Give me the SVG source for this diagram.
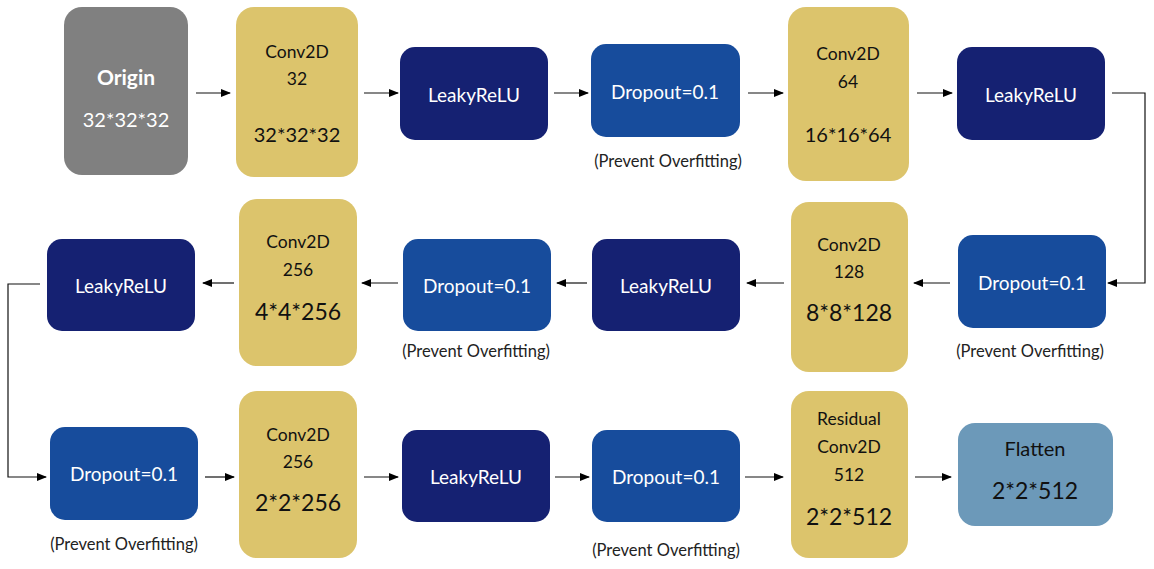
<svg xmlns="http://www.w3.org/2000/svg" width="1154" height="569" viewBox="0 0 1154 569">
<defs>
<marker id="ah" markerWidth="10" markerHeight="8" refX="9" refY="4" orient="auto" markerUnits="userSpaceOnUse">
<path d="M0,0 L10,4 L0,8 Z" fill="#000"/>
</marker>
<style>
text{font-family:Lato,"Open Sans","Liberation Sans",sans-serif;text-anchor:middle;}
.gray{fill:#808080;}
.gold{fill:#DCC46C;}
.navy{fill:#152172;}
.blue{fill:#174C9C;}
.flat{fill:#6C99B9;}
.w{fill:#ffffff;}
.k{fill:#111111;}
.lbl{font-size:19px;}
.sm{font-size:17.5px;}
.big{font-size:20px;}
.bg{font-size:23px;}
.note{font-size:16.5px;fill:#222;}
.c{fill:none;stroke:#111;stroke-width:1.2;}
</style>
</defs>
<rect width="1154" height="569" fill="#ffffff"/>

<g id="connectors">
<line class="c" x1="196" y1="93" x2="230" y2="93" marker-end="url(#ah)"/>
<line class="c" x1="364" y1="93" x2="398" y2="93" marker-end="url(#ah)"/>
<line class="c" x1="554" y1="93" x2="588" y2="93" marker-end="url(#ah)"/>
<line class="c" x1="748" y1="93" x2="783" y2="93" marker-end="url(#ah)"/>
<line class="c" x1="917" y1="93" x2="952" y2="93" marker-end="url(#ah)"/>
<polyline class="c" points="1112,93 1145,93 1145,283 1108,283" marker-end="url(#ah)"/>
<line class="c" x1="950" y1="283" x2="914" y2="283" marker-end="url(#ah)"/>
<line class="c" x1="784" y1="283" x2="747" y2="283" marker-end="url(#ah)"/>
<line class="c" x1="587" y1="283" x2="557" y2="283" marker-end="url(#ah)"/>
<line class="c" x1="398" y1="283" x2="362" y2="283" marker-end="url(#ah)"/>
<line class="c" x1="234" y1="283" x2="203" y2="283" marker-end="url(#ah)"/>
<polyline class="c" points="40,284 8,284 8,477 46,477" marker-end="url(#ah)"/>
<line class="c" x1="205" y1="477" x2="234" y2="477" marker-end="url(#ah)"/>
<line class="c" x1="364" y1="477" x2="398" y2="477" marker-end="url(#ah)"/>
<line class="c" x1="555" y1="477" x2="589" y2="477" marker-end="url(#ah)"/>
<line class="c" x1="745" y1="477" x2="783" y2="477" marker-end="url(#ah)"/>
<line class="c" x1="915" y1="477" x2="951" y2="477" marker-end="url(#ah)"/>
</g>

<g id="origin">
<rect class="gray" x="64" y="7" width="124" height="168" rx="18"/>
<text class="w" x="126" y="85" font-size="21" font-weight="bold">Origin</text>
<text class="w big" x="126" y="127">32*32*32</text>
</g>

<g id="conv32">
<rect class="gold" x="236" y="7" width="122" height="170" rx="18"/>
<text class="k sm" x="297" y="58">Conv2D</text>
<text class="k sm" x="297" y="85">32</text>
<text class="k big" x="297" y="142">32*32*32</text>
</g>

<g id="leaky1">
<rect class="navy" x="400" y="47" width="148" height="93" rx="15"/>
<text class="w lbl" x="474" y="102">LeakyReLU</text>
</g>

<g id="drop1">
<rect class="blue" x="591" y="44" width="149" height="93" rx="15"/>
<text class="w lbl" x="665" y="99">Dropout=0.1</text>
<text class="note" x="668" y="167">(Prevent Overfitting)</text>
</g>

<g id="conv64">
<rect class="gold" x="788" y="7" width="121" height="174" rx="18"/>
<text class="k sm" x="848" y="60">Conv2D</text>
<text class="k sm" x="848" y="88">64</text>
<text class="k big" x="848" y="142">16*16*64</text>
</g>

<g id="leaky2">
<rect class="navy" x="957" y="47" width="148" height="93" rx="15"/>
<text class="w lbl" x="1031" y="102">LeakyReLU</text>
</g>

<g id="drop2">
<rect class="blue" x="958" y="235" width="148" height="93" rx="15"/>
<text class="w lbl" x="1032" y="290">Dropout=0.1</text>
<text class="note" x="1030" y="357">(Prevent Overfitting)</text>
</g>

<g id="conv128">
<rect class="gold" x="791" y="202" width="117" height="170" rx="18"/>
<text class="k sm" x="849" y="251">Conv2D</text>
<text class="k sm" x="849" y="278">128</text>
<text class="k bg" x="849" y="321">8*8*128</text>
</g>

<g id="leaky3">
<rect class="navy" x="592" y="239" width="148" height="92" rx="15"/>
<text class="w lbl" x="666" y="293">LeakyReLU</text>
</g>

<g id="drop3">
<rect class="blue" x="403" y="239" width="148" height="92" rx="15"/>
<text class="w lbl" x="477" y="293">Dropout=0.1</text>
<text class="note" x="476" y="357">(Prevent Overfitting)</text>
</g>

<g id="conv256a">
<rect class="gold" x="239" y="199" width="118" height="167" rx="18"/>
<text class="k sm" x="298" y="248">Conv2D</text>
<text class="k sm" x="298" y="276">256</text>
<text class="k bg" x="298" y="320">4*4*256</text>
</g>

<g id="leaky4">
<rect class="navy" x="47" y="239" width="148" height="92" rx="15"/>
<text class="w lbl" x="121" y="293">LeakyReLU</text>
</g>

<g id="drop4">
<rect class="blue" x="50" y="427" width="148" height="93" rx="15"/>
<text class="w lbl" x="124" y="481">Dropout=0.1</text>
<text class="note" x="124" y="550">(Prevent Overfitting)</text>
</g>

<g id="conv256b">
<rect class="gold" x="239" y="391" width="118" height="167" rx="18"/>
<text class="k sm" x="298" y="441">Conv2D</text>
<text class="k sm" x="298" y="468">256</text>
<text class="k bg" x="298" y="511">2*2*256</text>
</g>

<g id="leaky5">
<rect class="navy" x="402" y="430" width="148" height="92" rx="15"/>
<text class="w lbl" x="476" y="484">LeakyReLU</text>
</g>

<g id="drop5">
<rect class="blue" x="592" y="430" width="148" height="92" rx="15"/>
<text class="w lbl" x="666" y="484">Dropout=0.1</text>
<text class="note" x="666" y="556">(Prevent Overfitting)</text>
</g>

<g id="residual">
<rect class="gold" x="791" y="391" width="117" height="167" rx="18"/>
<text class="k sm" x="849" y="425">Residual</text>
<text class="k sm" x="849" y="453">Conv2D</text>
<text class="k sm" x="849" y="481">512</text>
<text class="k bg" x="849" y="525">2*2*512</text>
</g>

<g id="flatten">
<rect class="flat" x="958" y="423" width="155" height="103" rx="17"/>
<text class="k" x="1035" y="456" font-size="20">Flatten</text>
<text class="k bg" x="1035" y="499">2*2*512</text>
</g>
</svg>
